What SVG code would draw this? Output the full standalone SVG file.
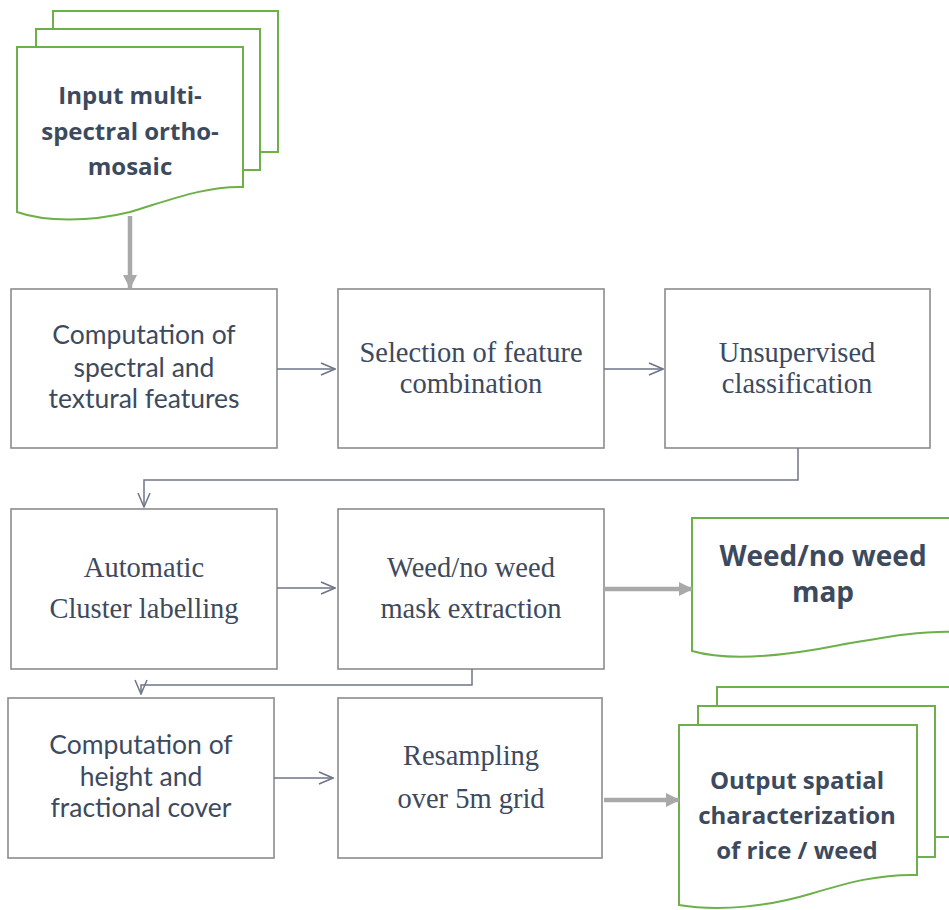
<svg xmlns="http://www.w3.org/2000/svg" width="949" height="910" viewBox="0 0 949 910">
<defs>
<style>
.box{fill:#fff;stroke:#8c8c8c;stroke-width:1.6}
.doc{fill:#fff;stroke:#6db04a;stroke-width:2}
.sans{font-family:Lato,"Open Sans","Liberation Sans",sans-serif;font-size:26.5px;fill:#3d4a5e;text-anchor:middle}
.serif{font-family:"Liberation Serif","DejaVu Serif",serif;font-size:28.5px;fill:#3d4a5e;text-anchor:middle}
.bold{font-family:"Open Sans",Lato,"Liberation Sans",sans-serif;font-weight:bold;fill:#3d4a5e;text-anchor:middle}
.thin{fill:none;stroke:#6e7587;stroke-width:1.5}
.thick{fill:none;stroke:#a9a9a9;stroke-width:4.5}
</style>
<marker id="open" viewBox="0 0 16 14" markerWidth="16" markerHeight="14" refX="15" refY="7" orient="auto" markerUnits="userSpaceOnUse">
<path d="M1,1 L15,7 L1,13" fill="none" stroke="#6e7587" stroke-width="1.5"/>
</marker>
<marker id="solid" viewBox="0 0 14 14" markerWidth="14" markerHeight="14" refX="13" refY="7" orient="auto" markerUnits="userSpaceOnUse">
<path d="M0,0 L14,7 L0,14 Z" fill="#a9a9a9"/>
</marker>
</defs>
<rect width="949" height="910" fill="#fff"/>

<g id="input">
<rect class="doc" x="53" y="11" width="225" height="141"/>
<rect class="doc" x="36" y="29" width="224" height="141"/>
<path class="doc" d="M17,47 H243 V187 C205,186 170,200 130,212 C90,222 45,222 17,212 Z"/>
<text class="bold" font-size="24" x="130" y="104">Input multi-</text>
<text class="bold" font-size="24" x="130" y="140">spectral ortho-</text>
<text class="bold" font-size="24" x="130" y="175">mosaic</text>
</g>

<g id="n1">
<rect class="box" x="11" y="289" width="266" height="159"/>
<text class="sans" x="144" y="344">Computation of</text>
<text class="sans" x="144" y="377">spectral and</text>
<text class="sans" x="144" y="408">textural features</text>
</g>
<g id="n2">
<rect class="box" x="338" y="289" width="266" height="159"/>
<text class="serif" x="471" y="362">Selection of feature</text>
<text class="serif" x="471" y="393">combination</text>
</g>
<g id="n3">
<rect class="box" x="665" y="289" width="265" height="159"/>
<text class="serif" x="797" y="362">Unsupervised</text>
<text class="serif" x="797" y="393">classification</text>
</g>
<g id="n4">
<rect class="box" x="11" y="509" width="266" height="160"/>
<text class="serif" x="144" y="577">Automatic</text>
<text class="serif" x="144" y="618">Cluster labelling</text>
</g>
<g id="n5">
<rect class="box" x="338" y="509" width="266" height="160"/>
<text class="serif" x="471" y="577">Weed/no weed</text>
<text class="serif" x="471" y="618">mask extraction</text>
</g>
<g id="map">
<path class="doc" d="M692,518 H960 V632 C920,630 880,638 840,645 C790,655 730,662 692,651 Z"/>
<text class="bold" font-size="28" x="823" y="566">Weed/no weed</text>
<text class="bold" font-size="28" x="823" y="602">map</text>
</g>
<g id="n6">
<rect class="box" x="8" y="698" width="266" height="160"/>
<text class="sans" x="141" y="754">Computation of</text>
<text class="sans" x="141" y="786">height and</text>
<text class="sans" x="141" y="817">fractional cover</text>
</g>
<g id="n7">
<rect class="box" x="338" y="698" width="264" height="160"/>
<text class="serif" x="471" y="765">Resampling</text>
<text class="serif" x="471" y="808">over 5m grid</text>
</g>
<g id="output">
<rect class="doc" x="717" y="687" width="250" height="150"/>
<rect class="doc" x="698" y="706" width="237" height="151"/>
<path class="doc" d="M679,725 H917 V875 C880,874 850,882 810,894 C770,906 720,912 679,905 Z"/>
<text class="bold" font-size="24" x="797" y="789">Output spatial</text>
<text class="bold" font-size="24" x="797" y="824">characterization</text>
<text class="bold" font-size="24" x="797" y="859">of rice / weed</text>
</g>

<g id="connectors">
<line class="thick" x1="130" y1="216" x2="130" y2="288" marker-end="url(#solid)"/>
<line class="thin" x1="277" y1="369" x2="335" y2="369" marker-end="url(#open)"/>
<line class="thin" x1="604" y1="369" x2="663" y2="369" marker-end="url(#open)"/>
<polyline class="thin" points="798,448 798,480 144,480 144,507" marker-end="url(#open)"/>
<line class="thin" x1="277" y1="588" x2="335" y2="588" marker-end="url(#open)"/>
<line class="thick" x1="604" y1="589" x2="692" y2="589" marker-end="url(#solid)"/>
<polyline class="thin" points="472,669 472,685 141,685 141,694" marker-end="url(#open)"/>
<line class="thin" x1="274" y1="778" x2="333" y2="778" marker-end="url(#open)"/>
<line class="thick" x1="604" y1="800" x2="679" y2="800" marker-end="url(#solid)"/>
</g>
</svg>
